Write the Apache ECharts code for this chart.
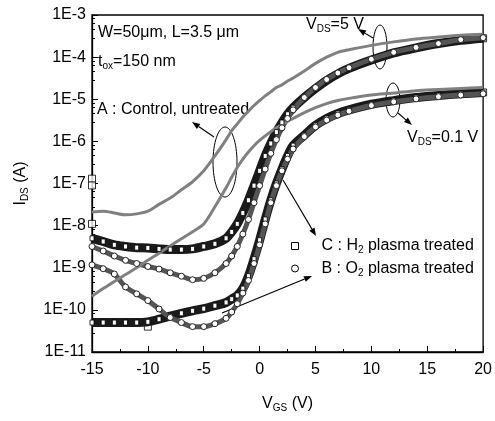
<!DOCTYPE html>
<html>
<head>
<meta charset="utf-8">
<script src="https://cdn.jsdelivr.net/npm/echarts@6/dist/echarts.min.js"></script>
<style>
html, body { margin: 0; padding: 0; background: #fff; }
#chart { width: 495px; height: 421px; }
</style>
</head>
<body>
<div id="chart"></div>
<script>
// gate voltage (V)
const vgs = [-15, -14, -13, -12, -11, -10, -9, -8, -7, -6, -5, -4, -3, -2.5, -2, -1.5, -1, -0.5,
             0, 0.5, 1, 1.5, 2, 2.5, 3, 4, 5, 6, 7, 8, 10, 12, 14, 16, 18, 20];

// A : control, untreated
const aVds5 = [2.1e-8, 2.2e-8, 2.0e-8, 1.8e-8, 1.9e-8, 2.2e-8, 3.2e-8, 4.5e-8, 7.1e-8, 1.1e-7, 2.0e-7, 4.5e-7,
               1.1e-6, 1.8e-6, 2.6e-6, 3.8e-6, 5.2e-6, 7.1e-6, 9.3e-6, 1.2e-5, 1.5e-5, 1.9e-5, 2.2e-5, 2.7e-5,
               3.2e-5, 4.7e-5, 7.1e-5, 1.0e-4, 1.3e-4, 1.5e-4, 1.9e-4, 2.3e-4, 2.7e-4, 3.0e-4, 3.3e-4, 3.5e-4];
const aVds01 = [2.1e-10, 3.2e-10, 4.7e-10, 6.9e-10, 1.0e-9, 1.5e-9, 2.2e-9, 3.3e-9, 4.9e-9, 7.2e-9, 1.1e-8, 2.8e-8,
                7.9e-8, 1.4e-7, 2.4e-7, 3.8e-7, 5.6e-7, 7.9e-7, 1.05e-6, 1.35e-6, 1.7e-6, 2.1e-6, 2.5e-6, 3.0e-6,
                3.5e-6, 4.8e-6, 6.3e-6, 7.9e-6, 9.3e-6, 1.05e-5, 1.26e-5, 1.4e-5, 1.6e-5, 1.7e-5, 1.8e-5, 1.9e-5];

// C : H2 plasma treated
const cVds5 = [5.0e-9, 4.2e-9, 3.5e-9, 3.2e-9, 3.0e-9, 2.95e-9, 2.8e-9, 2.7e-9, 2.7e-9, 2.8e-9, 3.2e-9, 3.7e-9,
               5.0e-9, 7.1e-9, 1.1e-8, 2.0e-8, 4.0e-8, 8.9e-8, 2.0e-7, 4.5e-7, 8.9e-7, 1.66e-6, 2.8e-6, 4.4e-6,
               6.3e-6, 1.1e-5, 1.8e-5, 2.8e-5, 4.0e-5, 5.4e-5, 8.5e-5, 1.26e-4, 1.66e-4, 2.1e-4, 2.5e-4, 2.8e-4];
const cVds01 = [5.0e-11, 5.0e-11, 5.0e-11, 5.0e-11, 5.0e-11, 5.2e-11, 6.0e-11, 7.1e-11, 8.3e-11, 9.5e-11, 1.07e-10, 1.26e-10,
                1.5e-10, 1.8e-10, 2.2e-10, 3.2e-10, 6.3e-10, 1.6e-9, 4.5e-9, 1.4e-8, 4.0e-8, 1.0e-7, 2.2e-7, 4.5e-7,
                7.9e-7, 1.4e-6, 2.4e-6, 3.5e-6, 4.6e-6, 5.6e-6, 7.6e-6, 9.3e-6, 1.1e-5, 1.23e-5, 1.35e-5, 1.45e-5];
const cStray = [[-15, 1.3e-7], [-15, 9e-8], [-15, 1.1e-8], [-10, 4e-11], [20, 2.8e-4], [20, 1.45e-5]];

// B : O2 plasma treated
const bVds5 = [3.2e-9, 2.5e-9, 1.9e-9, 1.5e-9, 1.26e-9, 1.07e-9, 9.3e-10, 7.6e-10, 6.3e-10, 5.2e-10, 5.6e-10, 7.6e-10,
               1.26e-9, 1.9e-9, 3.2e-9, 6.3e-9, 1.4e-8, 3.5e-8, 8.9e-8, 2.2e-7, 5.2e-7, 1.1e-6, 2.1e-6, 3.5e-6,
               5.6e-6, 1.1e-5, 1.9e-5, 2.95e-5, 4.2e-5, 5.6e-5, 8.9e-5, 1.3e-4, 1.7e-4, 2.1e-4, 2.6e-4, 2.9e-4];
const bVds01 = [1.17e-9, 9.5e-10, 7.1e-10, 3.5e-10, 2.4e-10, 1.66e-10, 1.05e-10, 6.6e-11, 5.0e-11, 4.0e-11, 4.0e-11, 4.7e-11,
                6.3e-11, 8.9e-11, 1.4e-10, 2.5e-10, 5.0e-10, 1.26e-9, 3.5e-9, 1.1e-8, 3.5e-8, 8.9e-8, 2.0e-7, 3.8e-7,
                6.6e-7, 1.3e-6, 2.2e-6, 3.2e-6, 4.2e-6, 5.2e-6, 7.1e-6, 8.7e-6, 1.02e-5, 1.15e-5, 1.26e-5, 1.35e-5];

const legendTexts = {
    C: '{t|C : H}{s|2}{t| plasma treated}',
    B: '{t|B : O}{s|2}{t| plasma treated}'
};

const FONT = 'Liberation Sans, Arial, sans-serif';
const pts = ys => vgs.map((x, i) => [x, ys[i]]);

const rich = {
    t: { fontSize: 16, fontFamily: FONT, color: '#000' },
    s: { fontSize: 10, fontFamily: FONT, color: '#000', padding: [9, 0, 0, 0] }
};

// little helper for annotation arrows (pixel space)
function arrow(x1, y1, x2, y2) {
    const a = Math.atan2(y2 - y1, x2 - x1);
    const L = 8, W = 3;
    const bx = x2 - L * Math.cos(a), by = y2 - L * Math.sin(a);
    return [
        { type: 'line', shape: { x1: x1, y1: y1, x2: bx, y2: by }, style: { stroke: '#000', lineWidth: 1.1 } },
        { type: 'polygon', shape: { points: [[x2, y2], [bx + W * Math.sin(a), by - W * Math.cos(a)], [bx - W * Math.sin(a), by + W * Math.cos(a)]] },
          style: { fill: '#000' } }
    ];
}
function ellipse(cx, cy, rx, ry) {
    return { type: 'ellipse', shape: { cx: cx, cy: cy, rx: rx, ry: ry }, style: { fill: 'none', stroke: '#000', lineWidth: 1 } };
}
function label(x, y, text) {
    return { type: 'text', x: x, y: y, style: { text: text, rich: rich, verticalAlign: 'middle', fill: '#000' } };
}

const cStyle = {
    type: 'line', name: 'C', smooth: 0.3, symbol: 'rect', symbolSize: [4, 5],
    lineStyle: { color: '#1a1a1a', width: 9 },
    itemStyle: { color: '#fff', borderColor: '#000', borderWidth: 0.8 }
};
const bStyle = {
    type: 'line', name: 'B', smooth: 0.3, symbol: 'circle', symbolSize: 6,
    lineStyle: { color: '#555', width: 5 },
    itemStyle: { color: '#fff', borderColor: '#222', borderWidth: 1 }
};
const aStyle = {
    type: 'line', name: 'A', smooth: 0.3, symbol: 'none',
    lineStyle: { color: '#808080', width: 3 }
};

const chart = echarts.init(document.getElementById('chart'));
chart.setOption({
    animation: false,
    backgroundColor: '#fff',
    grid: { left: 92, right: 9, top: 15, bottom: 69, show: true, borderColor: '#000', borderWidth: 1.3, backgroundColor: 'transparent' },
    legend: {
        data: [
            { name: 'C', icon: 'path://M0,0H10V10H0Z' },
            { name: 'B', icon: 'circle' }
        ],
        orient: 'vertical', left: 286, top: 233, itemGap: 5,
        itemWidth: 43, itemHeight: 7, symbolKeepAspect: true,
        itemStyle: { color: '#fff', borderColor: '#000', borderWidth: 1 },
        formatter: name => legendTexts[name],
        textStyle: { rich: rich }
    },
    xAxis: {
        type: 'value', min: -15, max: 20, interval: 5,
        name: '{t|V}{s|GS}{t| (V)}', nameLocation: 'middle', nameGap: 42,
        nameTextStyle: { rich: rich },
        axisLine: { onZero: false, lineStyle: { color: '#000', width: 1.3 } },
        axisTick: { inside: true, length: 6, lineStyle: { color: '#000' } },
        minorTick: { show: true, splitNumber: 2, length: 3, lineStyle: { color: '#000' } },
        axisLabel: { fontSize: 16, fontFamily: FONT, color: '#000', margin: 10 },
        splitLine: { show: false }
    },
    yAxis: {
        type: 'log', logBase: 10, min: 1e-11, max: 1e-3, splitNumber: 8,
        name: '{t|I}{s|DS}{t| (A)}', nameLocation: 'middle', nameGap: 62, nameRotate: 90,
        nameTextStyle: { rich: rich },
        axisLine: { onZero: false, lineStyle: { color: '#000', width: 1.3 } },
        axisTick: { inside: true, length: 6, lineStyle: { color: '#000' } },
        minorTick: { show: true, splitNumber: 5, length: 3, lineStyle: { color: '#000' } },
        axisLabel: {
            fontSize: 16, fontFamily: FONT, color: '#000', margin: 6,
            formatter: v => '1E' + Math.round(Math.log10(v))
        },
        splitLine: { show: false }
    },
    series: [
        Object.assign({ data: pts(cVds5) }, cStyle),
        Object.assign({ data: pts(cVds01) }, cStyle),
        Object.assign({ data: pts(bVds5) }, bStyle),
        Object.assign({ data: pts(bVds01) }, bStyle),
        Object.assign({ data: pts(aVds5) }, aStyle),
        Object.assign({ data: pts(aVds01) }, aStyle),
        { type: 'scatter', name: 'C', data: cStray, symbol: 'rect', symbolSize: 7,
          itemStyle: { color: '#fff', borderColor: '#000', borderWidth: 1 } }
    ],
    graphic: [
        label(98, 33, '{t|W=50μm, L=3.5 μm}'),
        label(98, 62, '{t|t}{s|ox}{t|=150 nm}'),
        label(97, 110, '{t|A : Control, untreated}'),
        label(306, 25, '{t|V}{s|DS}{t|=5 V}'),
        label(407, 138, '{t|V}{s|DS}{t|=0.1 V}'),
        ellipse(225, 162, 12, 35),
        ellipse(380, 47, 7, 22),
        ellipse(393, 100, 7, 17)
    ].concat(
        arrow(214, 137, 192, 122),
        arrow(373, 38, 358, 29),
        arrow(398, 113, 412, 125),
        arrow(283, 180, 316, 236),
        arrow(222, 313, 312, 276)
    )
});
</script>
</body>
</html>
